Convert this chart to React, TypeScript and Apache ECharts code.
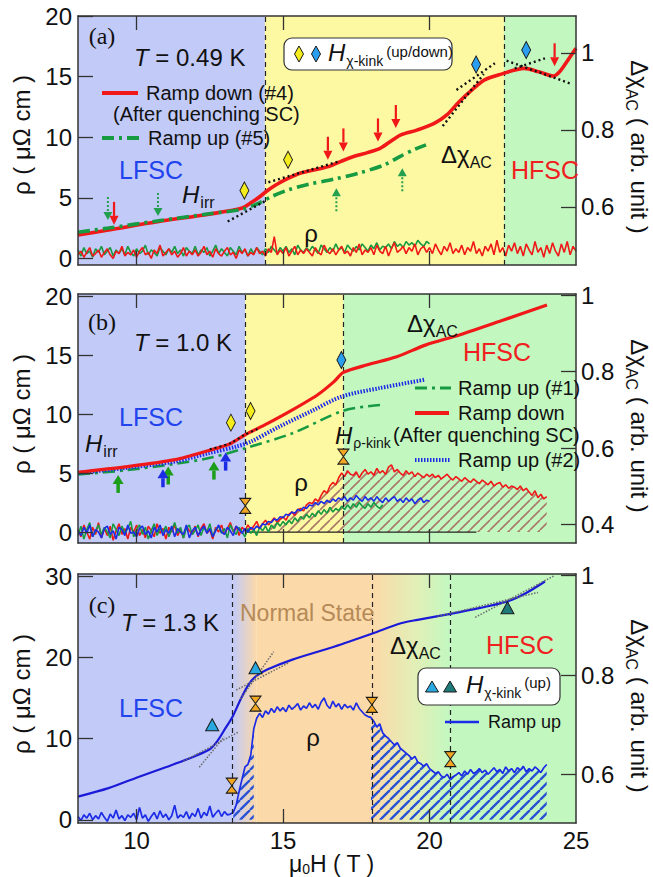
import React, { useEffect, useRef } from 'react';
import * as echarts from 'echarts';

const SANS = '"Liberation Sans", Arial, Helvetica, sans-serif';
const SERIF = '"Liberation Serif", "Times New Roman", serif';

// region colours
const BLUE_BG = '#c2caf8';
const YELLOW_BG = '#fdf8a2';
const GREEN_BG = '#c2f8c0';
const ORANGE_BG = '#fcd9a8';

// ---------- panel (a): T = 0.49 K ----------
const aDownField = [8.0, 9.04, 10.76, 12.47, 13.61, 13.89, 14.18, 14.46, 14.75, 15.17, 15.6, 16.17, 16.6, 17.03, 17.46, 17.88, 18.31, 18.74, 19.02, 19.59, 20.16, 20.59, 21.02, 21.45, 21.88, 22.45, 23.23, 23.73, 24.23, 24.44, 24.73, 25.0];
const aDownChi = [0.527, 0.540, 0.562, 0.581, 0.597, 0.610, 0.625, 0.642, 0.657, 0.674, 0.688, 0.698, 0.706, 0.720, 0.732, 0.741, 0.752, 0.774, 0.787, 0.800, 0.817, 0.839, 0.874, 0.904, 0.930, 0.945, 0.960, 0.951, 0.940, 0.951, 0.982, 1.012];
const aUpField = [8.0, 9.04, 10.76, 12.47, 13.61, 14.18, 14.61, 15.17, 15.88, 16.74, 17.6, 18.45, 19.02, 19.45, 19.88];
const aUpChi = [0.534, 0.545, 0.564, 0.582, 0.594, 0.610, 0.627, 0.644, 0.659, 0.672, 0.688, 0.709, 0.732, 0.748, 0.761];
const aRhoStart = 8.0;
const aRhoDown = [
  0.3, 0.6, 0.1, 0.5, 0.9, 0.2, 0.4, 0.7, 0.1, 0.5,
  0.8, 0.3, 0.0, 0.6, 0.4, 1.0, 0.2, 0.5, 0.3, 0.7,
  0.1, 0.6, 0.9, 0.3, 0.5, 0.0, 0.7, 0.4, 1.1, 0.2,
  0.5, 0.8, 0.3, 0.6, 0.1, 0.4, 0.9, 0.2, 0.6, 0.3,
  0.7, 0.2, 0.5, 1.0, 0.3, 0.6, 0.1, 0.8, 0.4, 0.2,
  0.6, 0.9, 0.3, 0.5, 0.0, 0.7, 0.4, 0.8, 0.2, 0.5,
  0.3, 0.9, 0.4, 0.6, 0.2, 0.8, 0.5, 1.8, 0.3, 0.7,
  0.4, 0.9, 0.2, 0.6, 1.0, 0.3, 0.7, 0.4, 0.8, 0.5,
  0.2, 0.9, 0.5, 0.3, 1.1, 0.6, 0.4, 0.8, 0.3, 0.7,
  1.0, 0.4, 0.6, 0.2, 0.9, 0.5, 1.2, 0.3, 0.7, 0.5,
  0.9, 0.3, 1.1, 0.6, 0.4, 1.0, 0.2, 0.8, 1.3, 0.5,
  0.7, 1.0, 0.4, 0.9, 0.6, 1.2, 0.3, 0.8, 1.0, 0.5,
  0.9, 0.4, 1.2, 0.7, 0.3, 1.0, 0.6, 1.3, 0.4, 0.8,
  0.5, 1.1, 0.3, 0.9, 0.6, 1.4, 0.4, 0.8, 0.2, 1.0,
  0.6, 1.2, 0.3, 1.5, 0.5, 0.9, 0.2, 1.1, 0.6, 1.3,
  0.4, 1.0, 0.2, 1.2, 0.7, 0.3, 1.4, 0.5, 0.9, 0.1,
  1.1, 0.4, 1.3, 0.6, 0.2, 1.2, 0.5, 1.4, 0.3, 1.0,
  0.6,
];
const aRhoUp = [
  0.7, 0.2, 0.9, 0.4, 0.6, 0.1, 0.8, 0.5, 1.0, 0.3,
  0.6, 0.9, 0.2, 0.7, 0.4, 0.8, 0.3, 1.0, 0.5, 0.2,
  0.8, 0.4, 0.6, 1.1, 0.3, 0.7, 0.5, 0.2, 0.9, 0.6,
  0.3, 0.8, 0.5, 1.0, 0.4, 0.7, 0.2, 0.9, 0.6, 0.4,
  1.0, 0.3, 0.7, 0.5, 0.9, 0.2, 0.6, 1.1, 0.4, 0.8,
  0.5, 0.2, 0.9, 0.6, 0.3, 1.0, 0.5, 0.7, 0.2, 0.8,
  0.4, 0.9, 0.6, 0.3, 0.8, 0.5, 1.0, 0.7, 0.4, 0.9,
  0.6, 1.0, 0.5, 0.8, 0.3, 1.1, 0.7, 0.5, 0.9, 0.6,
  1.0, 0.7, 0.4, 1.1, 0.8, 0.5, 0.9, 0.6, 1.2, 0.7,
  0.9, 0.5, 1.1, 0.8, 0.6, 1.0, 0.7, 1.2, 0.9, 0.6,
  1.1, 0.8, 1.3, 0.7, 1.0, 0.9, 1.2, 0.8, 1.4, 1.0,
  1.2, 0.9, 1.4, 1.1, 1.3, 1.0, 1.5, 1.2, 1.0, 1.4,
  1.2,
];
const aKinkUp = [[13.68, 5.6], [15.17, 8.14]];
const aKinkDown = [[21.59, 16.0], [23.3, 17.2]];
const aRedArrows = [[9.23, 2.77], [16.53, 8.14], [17.06, 8.83], [18.24, 9.65], [18.85, 10.76], [24.27, 15.85]];
const aGreenArrowsDown = [[9.02, 3.18], [10.73, 3.51]];
const aGreenArrowsUp = [[16.82, 5.8], [19.07, 7.45]];
const aTangents = [
  [[13.11, 0.562], [14.46, 0.618]],
  [[14.5, 0.664], [16.9, 0.718]],
  [[20.45, 0.81], [21.85, 0.945]],
  [[20.92, 0.904], [22.23, 0.973]],
  [[22.63, 0.980], [24.79, 0.921]],
  [[22.91, 0.960], [23.94, 0.986]],
];
const aBounds = [14.38, 22.54];

// ---------- panel (b): T = 1.0 K ----------
const bDownField = [8.0, 9.61, 11.32, 12.47, 13.18, 13.71, 14.46, 15.32, 16.17, 16.74, 17.06, 17.88, 18.88, 19.88, 21.02, 22.45, 24.01];
const bDownChi = [0.537, 0.551, 0.570, 0.594, 0.611, 0.635, 0.664, 0.700, 0.739, 0.774, 0.798, 0.818, 0.839, 0.870, 0.896, 0.933, 0.974];
const bUp2Field = [8.0, 9.61, 11.32, 12.47, 13.4, 13.9, 14.89, 16.0, 17.0, 18.3, 19.84];
const bUp2Chi = [0.535, 0.548, 0.565, 0.587, 0.604, 0.617, 0.657, 0.698, 0.735, 0.757, 0.779];
const bUp1Field = [8.0, 9.61, 11.32, 12.47, 13.71, 15.32, 17.06, 18.31];
const bUp1Chi = [0.531, 0.542, 0.559, 0.574, 0.600, 0.639, 0.698, 0.713];
const bRhoStart = 8.0;
const bRhoDown = [
  0.2, -0.4, 0.6, 0.0, -0.6, 0.4, -0.2, 0.8, -0.5, 0.3,
  -0.3, 0.5, -0.7, 0.1, 0.7, -0.2, 0.3, -0.6, 0.4, 0.0,
  0.6, -0.3, 0.2, -0.5, 0.5, 0.1, -0.4, 0.7, -0.1, 0.3,
  -0.6, 0.4, 0.0, 0.6, -0.3, 0.2, -0.5, 0.5, 0.1, -0.2,
  0.5, -0.4, 0.3, 0.7, -0.1, 0.2, -0.6, 0.4, 0.0, 0.6,
  -0.2, 0.3, 0.8, 0.0, 0.5, -0.3, 0.4, 0.1, 0.6, 0.2,
  0.5, 0.9, 0.3, 0.7, 1.0, 0.6, 0.9, 1.2, 0.8, 1.1,
  1.3, 1.0, 1.5, 1.7, 1.4, 1.9, 2.0, 1.8, 2.3, 2.5,
  2.4, 2.8, 2.6, 3.1, 3.5, 3.3, 3.9, 4.2, 4.0, 4.6,
  5.0, 4.7, 5.2, 4.9, 4.8, 5.1, 4.6, 5.0, 5.3, 4.9,
  5.1, 4.8, 5.4, 5.0, 5.2, 4.9, 5.5, 5.7, 5.1, 5.3,
  5.0, 4.8, 5.2, 4.9, 5.1, 4.7, 5.0, 4.8, 4.6, 4.9,
  4.7, 4.9, 4.6, 4.8, 4.5, 4.7, 4.9, 4.6, 4.4, 4.7,
  4.5, 4.3, 4.6, 4.4, 4.2, 4.5, 4.3, 4.1, 4.4, 4.2,
  4.0, 4.3, 3.9, 4.1, 4.2, 3.8, 4.0, 3.7, 3.9, 3.8,
  3.6, 3.9, 3.5, 3.7, 3.4, 3.1, 3.5, 2.9, 3.2, 2.8,
  3.0,
];
const bRhoUp2 = [
  0.1, -0.3, 0.4, -0.1, 0.6, -0.4, 0.2, 0.0, -0.5, 0.3,
  0.5, -0.2, 0.1, -0.6, 0.4, 0.2, -0.3, 0.6, -0.1, 0.0,
  -0.4, 0.3, 0.5, -0.2, 0.1, -0.5, 0.4, 0.0, 0.6, -0.3,
  0.2, -0.1, 0.5, -0.4, 0.3, 0.0, -0.2, 0.6, -0.5, 0.1,
  0.4, -0.3, 0.2, 0.5, -0.1, 0.3, -0.4, 0.1, 0.6, 0.0,
  -0.2, 0.4, 0.1, -0.3, 0.5, 0.2, -0.1, 0.3, 0.0, 0.4,
  0.2, 0.5, 0.3, 0.7, 0.6, 0.9, 0.8, 1.1, 1.0, 1.3,
  1.2, 1.5, 1.4, 1.7, 1.6, 1.9, 1.8, 2.1, 2.0, 2.3,
  2.2, 2.5, 2.3, 2.6, 2.4, 2.7, 2.5, 2.8, 2.6, 2.9,
  2.7, 3.0, 2.6, 2.9, 2.7, 3.1, 2.8, 2.6, 3.0, 2.7,
  2.9, 2.6, 3.0, 2.7, 2.5, 2.9, 2.6, 2.8, 3.0, 2.6,
  2.8, 2.5, 2.9, 2.6, 2.8, 2.4, 2.7, 2.9, 2.5, 2.7,
  2.6,
];
const bRhoUp1 = [
  -0.3, 0.5, -0.6, 0.2, 0.8, -0.4, 0.1, 0.6, -0.2, 0.4,
  0.0, -0.5, 0.7, 0.2, -0.3, 0.5, -0.1, 0.3, 0.9, -0.4,
  0.2, 0.6, -0.2, 0.4, -0.6, 0.1, 0.7, -0.3, 0.3, 0.0,
  0.5, -0.4, 0.2, 0.8, -0.1, 0.4, -0.5, 0.3, 0.6, -0.2,
  0.1, 0.6, -0.3, 0.4, 0.0, 0.7, -0.4, 0.2, 0.5, -0.1,
  0.3, -0.5, 0.6, 0.1, -0.2, 0.4, 0.0, -0.4, 0.3, -0.1,
  0.2, -0.3, 0.4, 0.1, 0.5, 0.0, 0.6, 0.3, 0.8, 0.5,
  0.9, 0.6, 1.0, 0.7, 1.2, 0.9, 1.3, 1.1, 1.5, 1.2,
  1.6, 1.3, 1.8, 1.5, 1.9, 1.6, 2.1, 1.7, 2.0, 1.8,
  2.2, 1.9, 2.3, 2.0, 2.4, 2.1, 2.5, 2.2, 2.0, 2.4,
  2.1, 2.5, 2.2, 2.0, 2.3,
];
const bKinkYellow = [[13.22, 9.27], [13.89, 10.25]];
const bKinkBlue = [[16.99, 14.57]];
const bRhoKink = [[13.71, 2.22], [17.06, 6.39]];
const bGreenArrows = [[9.37, 4.84], [11.08, 5.55], [12.64, 5.97]];
const bBlueArrows = [[10.9, 5.32], [13.04, 6.73]];
const bTangent = [[12.5, 0.597], [13.2, 0.613], [13.71, 0.636], [14.2, 0.652]];
const bZeroLine = [[13.7, 0], [21.6, 0]];
const bBounds = [13.71, 17.06];

// ---------- panel (c): T = 1.3 K ----------
const cField = [8.0, 9.04, 10.04, 11.04, 11.68, 12.47, 12.75, 13.04, 13.28, 13.54, 13.82, 14.06, 14.46, 15.32, 16.74, 18.03, 19.02, 19.59, 20.71, 21.73, 22.66, 23.30, 23.94];
const cChi = [0.556, 0.573, 0.595, 0.616, 0.630, 0.650, 0.667, 0.694, 0.717, 0.750, 0.781, 0.797, 0.811, 0.831, 0.857, 0.883, 0.904, 0.911, 0.923, 0.935, 0.948, 0.965, 0.988];
const cRhoStart = 8.0;
const cRho = [
  0.4, -0.1, 0.6, 0.2, 0.8, 0.0, 0.5, 0.1, 0.9, 0.3,
  -0.2, 0.7, 0.2, 1.2, 0.1, 0.5, -0.1, 0.6, 0.3, 0.8,
  0.0, 1.5, 0.2, 0.6, -0.2, 0.4, 0.9, 0.1, 1.1, 0.3,
  0.7, 0.0, 0.5, 1.8, 0.2, 0.6, 0.3, 1.0, 0.1, 0.8,
  0.4, 1.4, 0.2, 0.9, 0.5, 1.7, 0.3, 0.8, 1.2, 0.4,
  1.0, 0.6, 0.7, 0.9, 1.8, 3.5, 5.0, 6.5, 6.8, 8.0,
  11.2, 12.5, 13.1, 12.6, 13.4, 13.0, 13.7, 13.2, 13.9, 13.4,
  13.8, 13.3, 14.1, 13.6, 13.9, 14.3, 13.5, 14.0, 13.7, 14.4,
  13.8, 14.2, 13.6, 14.5, 15.0, 14.1, 13.7, 14.6, 13.9, 14.3,
  13.6, 14.2, 13.8, 14.0, 13.5, 14.4, 13.7, 13.3, 12.9, 12.7,
  12.6, 12.1, 11.4, 11.8, 10.7, 10.3, 10.0, 9.6, 9.2, 9.5,
  8.8, 8.5, 8.2, 7.9, 7.5, 7.8, 7.1, 6.9, 6.6, 6.9,
  6.3, 6.0, 5.7, 5.9, 5.4, 5.2, 5.6, 5.0, 5.3, 5.5,
  5.8, 5.4, 6.0, 5.6, 6.2, 5.7, 5.9, 6.3, 5.8, 6.1,
  5.6, 6.0, 6.4, 5.9, 6.2, 5.7, 6.5, 6.0, 6.3, 5.8,
  6.4, 6.1, 6.6, 5.9, 6.3, 6.0, 6.5, 6.2, 5.8, 6.4,
  6.8,
];
const cKinkCyan = [[12.58, 11.7], [14.06, 18.7]];
const cKinkTeal = [[22.66, 26.1]];
const cRhoKink = [[13.25, 4.2], [14.06, 14.3], [18.03, 14.15], [20.71, 7.47]];
const cTangents = [
  [[11.6, 0.627], [13.46, 0.685]],
  [[12.14, 0.615], [12.99, 0.676]],
  [[13.4, 0.770], [15.17, 0.824]],
  [[13.55, 0.752], [14.68, 0.847]],
  [[21.56, 0.916], [24.27, 1.0]],
  [[20.28, 0.918], [23.7, 0.966]],
];
const cBounds = [13.28, 18.03, 20.71];

// ---------- axes ----------
const X_MIN = 8;
const X_MAX = 25;
const X_TICKS = [10, 15, 20];
const X_LABELS = [10, 15, 20, 25];
const LEFT_RANGE = [[-0.54, 20], [-0.93, 20.17], [-0.4, 30.25]];
const RIGHT_RANGE = [[0.449, 1.096], [0.352, 1.003], [0.503, 1.003]];
const LEFT_TICKS = [[0, 5, 10, 15, 20], [0, 5, 10, 15, 20], [0, 10, 20, 30]];
const RIGHT_TICKS = [[0.6, 0.8, 1], [0.4, 0.6, 0.8, 1], [0.6, 0.8, 1]];
const GRID_TOP = [16, 294, 574];
const GRID_LEFT = 78;
const GRID_W = 498;
const GRID_H = 249;

const RED = '#f01818';
const GREEN = '#169a42';
const BLUE = '#1c2ce6';
const HOURGLASS = 'path://M0,0L10,0L5,7L10,14L0,14L5,7Z';

const pairs = (xs: number[], ys: number[]) => xs.map((x, i) => [x, ys[i]]);
const stepped = (start: number, vals: number[]) =>
  vals.map((v, i) => [Math.round((start + i * 0.1) * 100) / 100, v]);
const within = (d: number[][], a: number, b: number) => d.filter((p) => p[0] >= a - 1e-6 && p[0] <= b + 1e-6);

function hatchPattern(color: string, width: number, step: number) {
  const c = document.createElement('canvas');
  c.width = step;
  c.height = step;
  const g = c.getContext('2d')!;
  g.strokeStyle = color;
  g.lineWidth = width;
  g.beginPath();
  for (const o of [-step, 0, step]) {
    g.moveTo(o, step);
    g.lineTo(o + step, 0);
  }
  g.stroke();
  return { image: c.toDataURL(), repeat: 'repeat', imageWidth: step, imageHeight: step };
}

type Seg = { t: string; size: number; italic?: boolean; dy?: number; gap?: number; fill?: string; family?: string };

function buildOption() {
  const mctx = document.createElement('canvas').getContext('2d')!;
  const fontOf = (s: Seg) => `${s.italic ? 'italic ' : ''}${s.size}px ${s.family || SANS}`;
  const row = (x: number, y: number, segs: Seg[], align: 'left' | 'center' = 'left', rotation = 0) => {
    const widths = segs.map((s) => {
      mctx.font = fontOf(s);
      return mctx.measureText(s.t).width;
    });
    const total = widths.reduce((a, w, i) => a + w + (segs[i].gap || 0), 0);
    let cx = align === 'center' ? -total / 2 : 0;
    const children = segs.map((s, i) => {
      cx += s.gap || 0;
      const el = {
        type: 'text',
        x: cx,
        y: s.dy || 0,
        z: 20,
        style: { text: s.t, font: fontOf(s), fill: s.fill || '#111', textAlign: 'left', textVerticalAlign: 'middle' },
      };
      cx += widths[i];
      return el;
    });
    return { type: 'group', x, y, rotation, silent: true, children };
  };
  const gline = (x1: number, y1: number, x2: number, y2: number, stroke: string, lineWidth: number, lineDash?: number[]) => ({
    type: 'line', z: 20, silent: true,
    shape: { x1, y1, x2, y2 },
    style: { stroke, lineWidth, lineDash: lineDash || null },
  });
  const gdiamond = (x: number, y: number, fill: string) => ({
    type: 'polygon', z: 20, silent: true,
    shape: { points: [[x, y - 8], [x + 4.5, y], [x, y + 8], [x - 4.5, y]] },
    style: { fill, stroke: '#1a1a1a', lineWidth: 1 },
  });
  const gtriangle = (x: number, y: number, fill: string) => ({
    type: 'polygon', z: 20, silent: true,
    shape: { points: [[x, y - 6], [x + 6.5, y + 5], [x - 6.5, y + 5]] },
    style: { fill, stroke: '#1a1a1a', lineWidth: 1 },
  });
  const gbox = (x: number, y: number, w: number, h: number) => ({
    type: 'rect', z: 19, silent: true,
    shape: { x, y, width: w, height: h, r: 8 },
    style: { fill: '#ffffff', stroke: '#333', lineWidth: 1.2 },
  });

  const grids = GRID_TOP.map((top) => ({ left: GRID_LEFT, top, width: GRID_W, height: GRID_H }));

  const axisLine = { show: true, onZero: false, lineStyle: { color: '#333', width: 1.5 } };
  const tickStyle = { color: '#333', width: 1.3 };
  const labelStyle = { fontSize: 24, fontFamily: SANS, color: '#111' };

  const xAxis: any[] = [];
  const yAxis: any[] = [];
  for (let gi = 0; gi < 3; gi++) {
    for (const pos of ['bottom', 'top']) {
      xAxis.push({
        type: 'value', gridIndex: gi, position: pos, min: X_MIN, max: X_MAX, z: 10,
        axisLine,
        axisTick: { show: true, inside: true, length: 14, customValues: X_TICKS, lineStyle: tickStyle },
        axisLabel: { show: gi === 2 && pos === 'bottom', customValues: X_LABELS, margin: 5, ...labelStyle },
        splitLine: { show: false },
      });
    }
    yAxis.push({
      type: 'value', gridIndex: gi, position: 'left', min: LEFT_RANGE[gi][0], max: LEFT_RANGE[gi][1], z: 10,
      axisLine,
      axisTick: { show: true, inside: true, length: 15, customValues: LEFT_TICKS[gi], lineStyle: tickStyle },
      axisLabel: { show: true, customValues: LEFT_TICKS[gi], margin: 6, ...labelStyle },
      splitLine: { show: false },
    });
    yAxis.push({
      type: 'value', gridIndex: gi, position: 'right', min: RIGHT_RANGE[gi][0], max: RIGHT_RANGE[gi][1], z: 10,
      axisLine,
      axisTick: { show: true, inside: true, length: 15, customValues: RIGHT_TICKS[gi], lineStyle: tickStyle },
      axisLabel: { show: true, customValues: RIGHT_TICKS[gi], margin: 5, formatter: (v: number) => String(v), ...labelStyle },
      splitLine: { show: false },
    });
  }

  const ax = (gi: number, right = false) => ({ xAxisIndex: gi * 2, yAxisIndex: gi * 2 + (right ? 1 : 0) });

  const line = (gi: number, right: boolean, data: number[][], color: string, width: number, type: any, z = 4, smooth: any = false) => ({
    type: 'line', ...ax(gi, right), data, smooth, showSymbol: false, symbol: 'none', silent: true, z,
    lineStyle: { color, width, type },
  });

  const background = (gi: number, areas: [number, number, any][]) => ({
    type: 'line', ...ax(gi), data: [], z: 1, silent: true,
    markArea: {
      silent: true,
      label: { show: false },
      data: areas.map(([a, b, color]) => [{ xAxis: a, itemStyle: { color, borderWidth: 0 } }, { xAxis: b }]),
    },
  });

  const dividers = (gi: number, xs: number[]) => ({
    type: 'line', ...ax(gi), data: [], z: 3, silent: true,
    markLine: {
      silent: true, symbol: ['none', 'none'], label: { show: false },
      lineStyle: { color: '#222', width: 1.2, type: [5, 4] },
      emphasis: { disabled: true },
      data: xs.map((x) => ({ xAxis: x })),
    },
  });

  const marks = (gi: number, data: number[][], symbol: string, size: number[], color: string) => ({
    type: 'scatter', ...ax(gi), data, symbol, symbolSize: size, silent: true, z: 7,
    itemStyle: { color, borderColor: '#1a1a1a', borderWidth: 1, opacity: 1 },
  });

  const hatch = (gi: number, data: number[][], pattern: any) => ({
    type: 'line', ...ax(gi), data, showSymbol: false, symbol: 'none', silent: true, z: 3,
    lineStyle: { width: 0, opacity: 0 },
    areaStyle: { color: pattern, origin: 0, opacity: 1 },
  });

  type ArrowStyle = { dir: number; len: number; head: number; hw: number; shaft: number; color: string; dash?: number[] };
  const arrows = (gi: number, data: number[][], st: ArrowStyle) => ({
    type: 'custom', ...ax(gi), data, silent: true, z: 7, clip: false,
    encode: { x: 0, y: 1 },
    renderItem: (_p: any, api: any) => {
      const tip = api.coord([api.value(0), api.value(1)]);
      const baseY = tip[1] + st.dir * st.len;
      const neckY = tip[1] + st.dir * st.head;
      return {
        type: 'group',
        children: [
          {
            type: 'line',
            shape: { x1: tip[0], y1: baseY, x2: tip[0], y2: neckY },
            style: { stroke: st.color, lineWidth: st.shaft, lineDash: st.dash || null },
          },
          {
            type: 'polygon',
            shape: { points: [[tip[0], tip[1]], [tip[0] - st.hw, neckY], [tip[0] + st.hw, neckY]] },
            style: { fill: st.color },
          },
        ],
      };
    },
  });

  const dotted = [2, 3];
  const redHatch = hatchPattern('#a9786a', 1.6, 10);
  const blueHatch = hatchPattern('#2a52d4', 2.4, 10);

  const aRhoDownData = stepped(aRhoStart, aRhoDown);
  const aRhoUpData = stepped(aRhoStart, aRhoUp);
  const bRhoDownData = stepped(bRhoStart, bRhoDown);
  const bRhoUp2Data = stepped(bRhoStart, bRhoUp2);
  const bRhoUp1Data = stepped(bRhoStart, bRhoUp1);
  const cRhoData = stepped(cRhoStart, cRho);

  const series: any[] = [
    // panel (a)
    background(0, [[X_MIN, aBounds[0], BLUE_BG], [aBounds[0], aBounds[1], YELLOW_BG], [aBounds[1], X_MAX, GREEN_BG]]),
    dividers(0, aBounds),
    line(0, false, aRhoUpData, GREEN, 1.6, 'solid', 4),
    line(0, false, aRhoDownData, RED, 1.6, 'solid', 4),
    line(0, true, pairs(aDownField, aDownChi), RED, 3.6, 'solid', 5, 0.3),
    line(0, true, pairs(aUpField, aUpChi), GREEN, 3.6, [12, 5, 3, 5], 5, 0.3),
    ...aTangents.map((t) => line(0, true, t, '#111', 2.4, dotted, 6)),
    marks(0, aKinkUp, 'diamond', [9, 17], '#f4ec1c'),
    marks(0, aKinkDown, 'diamond', [9, 17], '#2a9ff0'),
    arrows(0, aRedArrows, { dir: -1, len: 23, head: 9, hw: 4.5, shaft: 2.2, color: RED }),
    arrows(0, aGreenArrowsDown, { dir: -1, len: 23, head: 8, hw: 4.5, shaft: 2, color: '#22a050', dash: [2, 2] }),
    arrows(0, aGreenArrowsUp, { dir: 1, len: 23, head: 8, hw: 4.5, shaft: 2, color: '#22a050', dash: [2, 2] }),

    // panel (b)
    background(1, [[X_MIN, bBounds[0], BLUE_BG], [bBounds[0], bBounds[1], YELLOW_BG], [bBounds[1], X_MAX, GREEN_BG]]),
    dividers(1, bBounds),
    hatch(1, within(bRhoDownData, 14.4, 24), redHatch),
    line(1, false, bZeroLine, '#222', 1.2, 'solid', 3),
    line(1, false, bRhoDownData, RED, 1.6, 'solid', 4),
    line(1, false, bRhoUp1Data, GREEN, 1.6, 'solid', 4),
    line(1, false, bRhoUp2Data, BLUE, 1.6, 'solid', 4),
    line(1, true, pairs(bUp1Field, bUp1Chi), GREEN, 2.6, [12, 5, 3, 5], 5, 0.3),
    line(1, true, pairs(bUp2Field, bUp2Chi), BLUE, 4, [1.5, 1.5], 5, 0.3),
    line(1, true, pairs(bDownField, bDownChi), RED, 3.2, 'solid', 5, 0.25),
    line(1, true, bTangent, '#111', 2, dotted, 6, 0.3),
    marks(1, bKinkYellow, 'diamond', [9, 17], '#f4ec1c'),
    marks(1, bKinkBlue, 'diamond', [9, 17], '#2a9ff0'),
    marks(1, bRhoKink, HOURGLASS, [11, 15], '#f2a623'),
    arrows(1, bGreenArrows, { dir: 1, len: 18, head: 9, hw: 5.5, shaft: 3.5, color: '#1c9e1c' }),
    arrows(1, bBlueArrows, { dir: 1, len: 18, head: 9, hw: 5.5, shaft: 3.5, color: BLUE }),

    // panel (c)
    background(2, [
      [X_MIN, cBounds[0], BLUE_BG],
      [cBounds[0], 14.1, new echarts.graphic.LinearGradient(0, 0, 1, 0, [{ offset: 0, color: BLUE_BG }, { offset: 1, color: ORANGE_BG }])],
      [14.1, cBounds[1], ORANGE_BG],
      [cBounds[1], cBounds[2], new echarts.graphic.LinearGradient(0, 0, 1, 0, [
        { offset: 0, color: ORANGE_BG }, { offset: 0.55, color: '#e2efb6' }, { offset: 1, color: GREEN_BG },
      ])],
      [cBounds[2], X_MAX, GREEN_BG],
    ]),
    dividers(2, cBounds),
    hatch(2, within(cRhoData, 13.3, 14.0), blueHatch),
    hatch(2, within(cRhoData, 18.0, 24.0), blueHatch),
    line(2, false, cRhoData, BLUE, 1.7, 'solid', 4),
    line(2, true, pairs(cField, cChi), '#1a1ad8', 2.2, 'solid', 5, 0.3),
    ...cTangents.map((t) => line(2, true, t, '#6a6a6a', 1.5, [1.5, 1.5], 6)),
    marks(2, cKinkCyan, 'triangle', [13, 12], '#29a9e0'),
    marks(2, cKinkTeal, 'triangle', [13, 12], '#1f7a7a'),
    marks(2, cRhoKink, HOURGLASS, [11, 15], '#f2a623'),
  ];

  const T = (x: number, y: number, rest: string) =>
    row(x, y, [{ t: 'T', size: 24, italic: true }, { t: rest, size: 24 }]);
  const chiLabel = (x: number, y: number) =>
    row(x, y, [{ t: 'Δχ', size: 24 }, { t: 'AC', size: 16, dy: 8 }]);
  const hLabel = (x: number, y: number, sub: string, subSize = 16) =>
    row(x, y, [{ t: 'H', size: 24, italic: true }, { t: sub, size: subSize, dy: 8, gap: 1 }]);
  const panelTag = (x: number, y: number, t: string) =>
    row(x, y, [{ t, size: 24, family: SERIF }], 'center');
  const word = (x: number, y: number, t: string, fill: string, size = 25, align: 'left' | 'center' = 'center') =>
    row(x, y, [{ t, size, fill }], align);
  const small = (x: number, y: number, t: string, size = 20) => row(x, y, [{ t, size }]);

  const leftTitle = (cy: number) => row(21, cy, [{ t: 'ρ ( μΩ cm )', size: 24 }], 'center', Math.PI / 2);
  const rightTitle = (cy: number) =>
    row(639, cy, [{ t: 'Δχ', size: 24 }, { t: 'AC', size: 16, dy: 8 }, { t: ' ( arb. unit )', size: 24 }], 'center', -Math.PI / 2);

  const elements: any[] = [
    // axis titles
    leftTitle(135), leftTitle(414), leftTitle(694),
    rightTitle(147), rightTitle(426), rightTitle(706),
    row(332, 864, [{ t: 'μ', size: 23 }, { t: '0', size: 14, dy: 5 }, { t: 'H ( T )', size: 23 }], 'center'),

    // panel (a) annotations
    panelTag(102, 36, '(a)'),
    T(134, 57, ' = 0.49 K'),
    gline(102, 93, 138, 93, RED, 4),
    small(146, 93, 'Ramp down (#4)'),
    small(113, 114, '(After quenching SC)'),
    gline(102, 138, 140, 138, GREEN, 4, [12, 5, 3, 5]),
    small(148, 138, 'Ramp up (#5)'),
    word(151, 170, 'LFSC', '#2244ee'),
    hLabel(182, 194, 'irr'),
    word(311, 233, 'ρ', '#111', 24),
    chiLabel(441, 154),
    word(545, 170, 'HFSC', '#f02020'),
    gbox(284, 38, 168, 32),
    gdiamond(299, 54, '#f4ec1c'),
    gdiamond(316, 54, '#2a9ff0'),
    row(328, 52, [
      { t: 'H', size: 24, italic: true },
      { t: 'χ-kink', size: 14, dy: 9, gap: 1 },
      { t: '(up/down)', size: 15, dy: -1, gap: 3 },
    ]),

    // panel (b) annotations
    panelTag(102, 322, '(b)'),
    T(134, 342, ' = 1.0 K'),
    word(151, 417, 'LFSC', '#2244ee'),
    hLabel(85, 443, 'irr'),
    word(301, 482, 'ρ', '#111', 24),
    chiLabel(407, 323),
    word(497, 352, 'HFSC', '#f02020'),
    hLabel(335, 435, 'ρ-kink', 14),
    gline(415, 388, 451, 388, GREEN, 3, [12, 5, 3, 5]),
    small(458, 388, 'Ramp up (#1)'),
    gline(415, 413, 449, 413, RED, 4),
    small(458, 413, 'Ramp down'),
    small(393, 435, '(After quenching SC)'),
    gline(415, 460, 451, 460, BLUE, 4, [1.5, 1.5]),
    small(458, 460, 'Ramp up (#2)'),

    // panel (c) annotations
    panelTag(102, 605, '(c)'),
    T(121, 622, ' = 1.3 K'),
    word(240, 613, 'Normal State', '#b58a58', 23, 'left'),
    word(151, 708, 'LFSC', '#2244ee'),
    word(313, 737, 'ρ', '#111', 24),
    chiLabel(390, 645),
    word(520, 645, 'HFSC', '#f02020'),
    gbox(418, 668, 142, 37),
    gtriangle(432, 687, '#29a9e0'),
    gtriangle(450, 687, '#1f7a7a'),
    row(466, 684, [
      { t: 'H', size: 24, italic: true },
      { t: 'χ-kink', size: 14, dy: 9, gap: 1 },
      { t: '(up)', size: 15, dy: -2, gap: 3 },
    ]),
    gline(445, 722, 479, 722, BLUE, 2.5),
    small(488, 722, 'Ramp up', 18),
  ];

  return {
    animation: false,
    backgroundColor: '#ffffff',
    grid: grids,
    xAxis,
    yAxis,
    series,
    graphic: { elements },
  };
}

export default function App() {
  const ref = useRef<HTMLDivElement>(null);
  useEffect(() => {
    if (!ref.current) return;
    const chart = echarts.init(ref.current, null, { renderer: 'svg' });
    chart.setOption(buildOption() as any);
    return () => chart.dispose();
  }, []);
  return <div ref={ref} style={{ position: 'fixed', left: 0, top: 0, width: 653, height: 877 }} />;
}
